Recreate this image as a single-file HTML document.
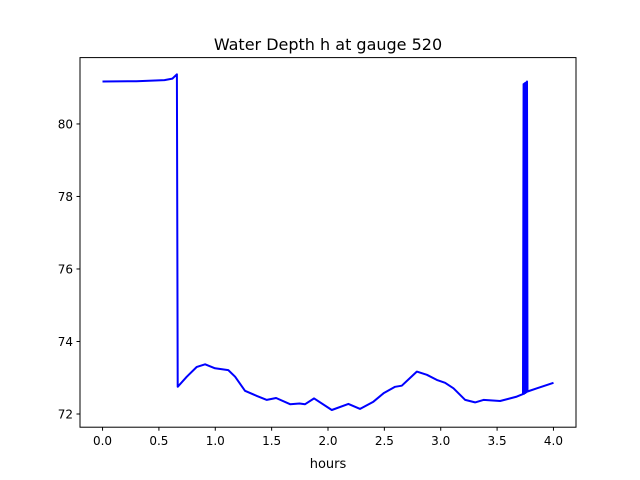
<!DOCTYPE html>
<html><head><meta charset="utf-8"><style>
body{margin:0;background:#fff;}
svg{display:block;font-family:"DejaVu Sans","Liberation Sans",sans-serif;}
</style></head><body>
<svg id="chart" width="640" height="480">
<rect width="640" height="480" fill="#fff"/>
<text x="328" y="50" font-size="16" text-anchor="middle">Water Depth h at gauge 520</text>
<g id="plot"></g>
<rect x="80" y="57.6" width="496" height="369.6" fill="none" stroke="#000" stroke-width="1"/>
<text x="328" y="468" font-size="13" text-anchor="middle">hours</text>
</svg>
<script>
const xTicks=[0,0.5,1,1.5,2,2.5,3,3.5,4];
const xTickLabels=["0.0","0.5","1.0","1.5","2.0","2.5","3.0","3.5","4.0"];
const yTicks=[72,74,76,78,80];
const yTickLabels=["72","74","76","78","80"];
const hours=[0,0.3,0.55,0.62,0.66,0.667,0.747,0.836,0.91,0.998,1.116,1.176,1.264,1.368,1.457,1.54,1.664,1.747,1.797,1.877,2.034,2.181,2.285,2.403,2.492,2.595,2.655,2.788,2.877,2.965,3.039,3.113,3.217,3.305,3.379,3.527,3.675,3.73,3.735,3.74,3.745,3.75,3.755,3.76,3.765,3.77,3.853,4.0];
const depth=[81.17,81.18,81.21,81.25,81.37,72.75,73.03,73.30,73.37,73.26,73.21,73.03,72.64,72.50,72.39,72.44,72.27,72.29,72.27,72.43,72.11,72.28,72.14,72.34,72.57,72.75,72.78,73.17,73.08,72.94,72.86,72.71,72.39,72.32,72.39,72.36,72.48,72.55,81.1,72.56,81.12,72.58,81.14,72.6,81.17,72.62,72.71,72.86];
const NS="http://www.w3.org/2000/svg";
const X=v=>80+(v+0.2)/4.4*496;
const Y=v=>427.2-(v-71.636)/(81.83-71.636)*369.6;
const g=document.getElementById('plot');
function mk(t,a){const e=document.createElementNS(NS,t);for(const k in a)e.setAttribute(k,a[k]);return e;}
xTicks.forEach((t,i)=>{
  const l=mk('line',{x1:X(t),x2:X(t),y1:427.2,y2:430.7,stroke:'#000'});
  
  
  g.appendChild(l);
  const tx=mk('text',{x:X(t),y:445,'font-size':12,'text-anchor':'middle'});
  
  
  tx.textContent=xTickLabels[i];g.appendChild(tx);
});
yTicks.forEach((t,i)=>{
  const l=mk('line',{x1:76.5,x2:80,y1:Y(t),y2:Y(t),stroke:'#000'});
  
  
  g.appendChild(l);
  const tx=mk('text',{x:73,y:Y(t)+4.5,'font-size':12,'text-anchor':'end'});
  
  
  tx.textContent=yTickLabels[i];g.appendChild(tx);
});
const p=mk('polyline',{points:hours.map((h,i)=>X(h).toFixed(1)+','+Y(depth[i]).toFixed(1)).join(' '),fill:'none',stroke:'#0000ff','stroke-width':2,'stroke-linejoin':'round'});


g.appendChild(p);
</script>
</body></html>
